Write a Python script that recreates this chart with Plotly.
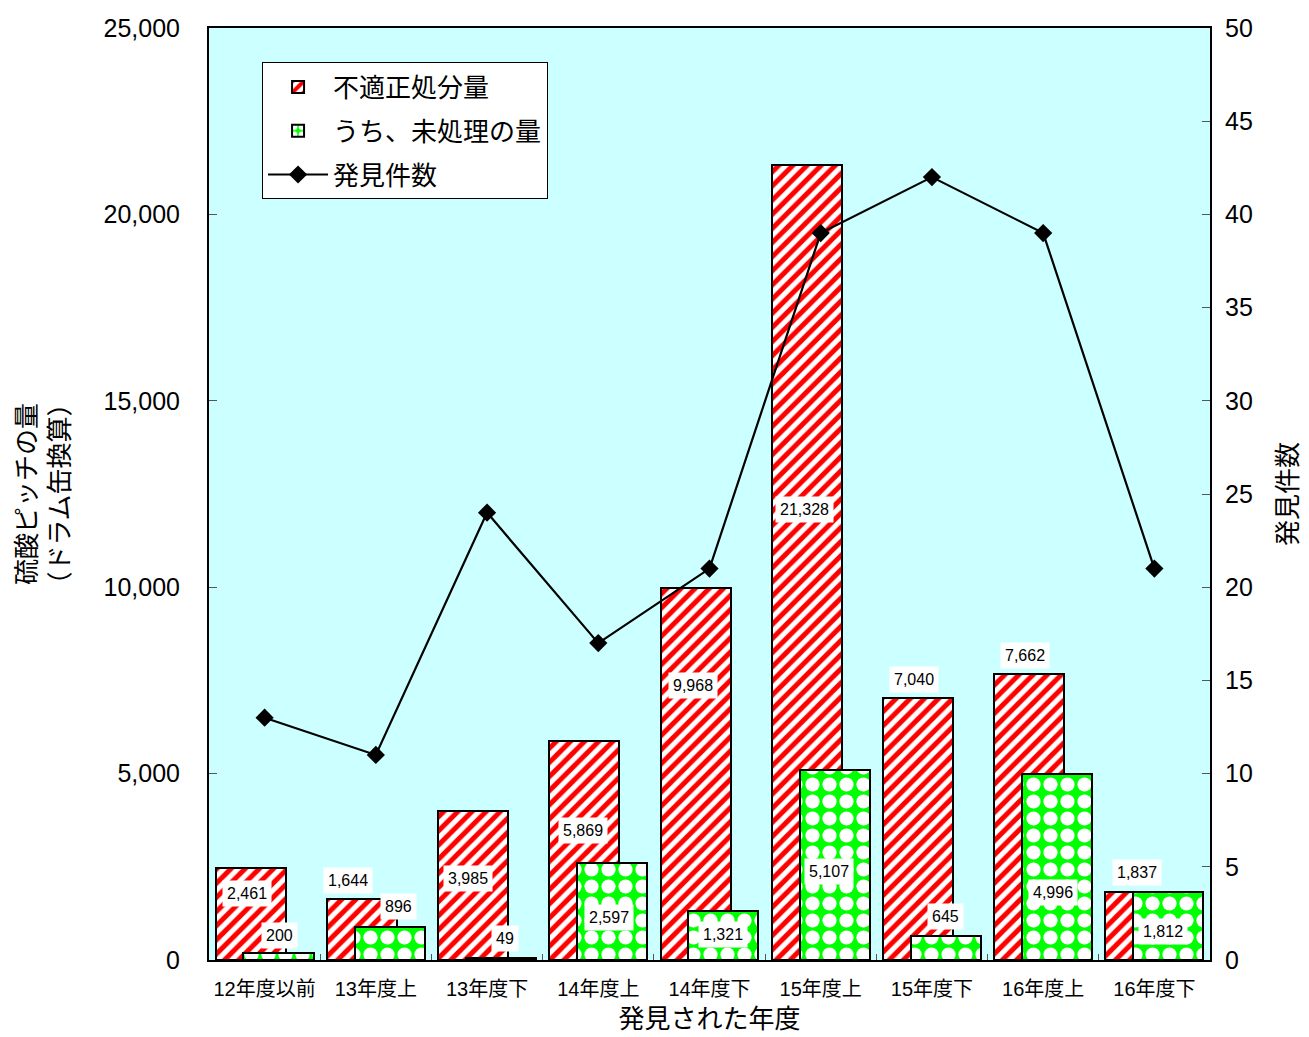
import plotly.graph_objects as go

categories = ["12年度以前", "13年度上", "13年度下", "14年度上", "14年度下",
              "15年度上", "15年度下", "16年度上", "16年度下"]
improper_amount = [2461, 1644, 3985, 5869, 9968, 21328, 7040, 7662, 1837]
untreated_amount = [200, 896, 49, 2597, 1321, 5107, 645, 4996, 1812]
found_count = [13, 11, 24, 17, 21, 39, 42, 39, 21]

# label placement (layout only)
red_label_y = [1797, 2146, 2173, 3487, 7350, 12071, 7537, 8155, 2334]
red_label_dx = [-18, -28, -19, -15, -17, -16, -18, -18, -17]
green_label_y = [644, 1448, 590, 1153, 671, 2387, 1180, 1824, 778]
green_label_dx = [15, 23, 18, 11, 13, 8, 14, 10, 9]

FONT = "Liberation Sans, Arial, Noto Sans CJK JP, sans-serif"

fig = go.Figure()
fig.add_trace(go.Bar(
    x=categories, y=improper_amount, name="不適正処分量", legendgroup="a",
    width=0.63, offset=-0.44,
    marker=dict(color="white", line=dict(color="black", width=2),
                pattern=dict(shape="/", fgcolor="#FF0000", bgcolor="white", fgopacity=1,
                             size=10, solidity=0.5, fillmode="replace")),
))
fig.add_trace(go.Bar(
    x=categories, y=untreated_amount, name="うち、未処理の量", legendgroup="b",
    width=0.63, offset=-0.19,
    marker=dict(color="#00FF00", line=dict(color="black", width=2),
                pattern=dict(shape=".", fgcolor="white", bgcolor="#00FF00", fgopacity=1,
                             size=17, solidity=0.55, fillmode="replace")),
))
fig.add_trace(go.Scatter(
    x=categories, y=found_count, name="発見件数", yaxis="y2", legendgroup="c",
    mode="lines+markers",
    line=dict(color="black", width=2.2),
    marker=dict(symbol="diamond", size=14, color="black"),
))

annotations = []
for i, c in enumerate(categories):
    annotations.append(dict(x=c, y=red_label_y[i], xref="x", yref="y",
                            xshift=red_label_dx[i], text=f"{improper_amount[i]:,}",
                            showarrow=False, bgcolor="white", borderpad=4,
                            font=dict(family=FONT, size=16, color="black")))
    annotations.append(dict(x=c, y=green_label_y[i], xref="x", yref="y",
                            xshift=green_label_dx[i], text=f"{untreated_amount[i]:,}",
                            showarrow=False, bgcolor="white", borderpad=4,
                            font=dict(family=FONT, size=16, color="black")))

fig.update_layout(
    width=1309, height=1037,
    margin=dict(l=201, r=107, t=20, b=85, autoexpand=False),
    paper_bgcolor="white", plot_bgcolor="#CCFFFF",
    barmode="overlay", bargap=0,
    font=dict(family=FONT, color="black"),
    showlegend=True,
    legend=dict(x=0.053, y=0.963, xanchor="left", yanchor="top",
                bgcolor="white", bordercolor="black", borderwidth=1,
                font=dict(size=26, family=FONT), traceorder="grouped",
                tracegroupgap=7, itemwidth=60),
    xaxis=dict(
        type="category", showline=True, linecolor="black", linewidth=2, mirror=True,
        ticks="inside", tickson="boundaries", ticklen=6, tickcolor="#555555",
        ticklabelstandoff=10, tickangle=0,
        tickfont=dict(size=20, family=FONT), automargin=False,
        title=dict(text="発見された年度", font=dict(size=26, family=FONT), standoff=11),
        showgrid=False, range=[-0.5, 8.5],
    ),
    yaxis=dict(
        range=[0, 25000], dtick=5000, tickformat=",",
        showline=True, linecolor="black", linewidth=2, mirror=True,
        ticks="inside", ticklen=8, tickcolor="#555555", ticklabelstandoff=22,
        tickfont=dict(size=25, family=FONT), showgrid=False, zeroline=False,
        automargin=False,
        title=dict(text="硫酸ピッチの量<br>（ドラム缶換算）", font=dict(size=26, family=FONT), standoff=26),
    ),
    yaxis2=dict(
        range=[0, 50], dtick=5, overlaying="y", side="right",
        ticks="inside", ticklen=8, tickcolor="#555555", ticklabelstandoff=14,
        tickfont=dict(size=25, family=FONT), showgrid=False, zeroline=False,
        showline=False, automargin=False,
        title=dict(text="発見件数", font=dict(size=26, family=FONT), standoff=26),
    ),
    annotations=annotations,
)

fig.write_html("out.html")
